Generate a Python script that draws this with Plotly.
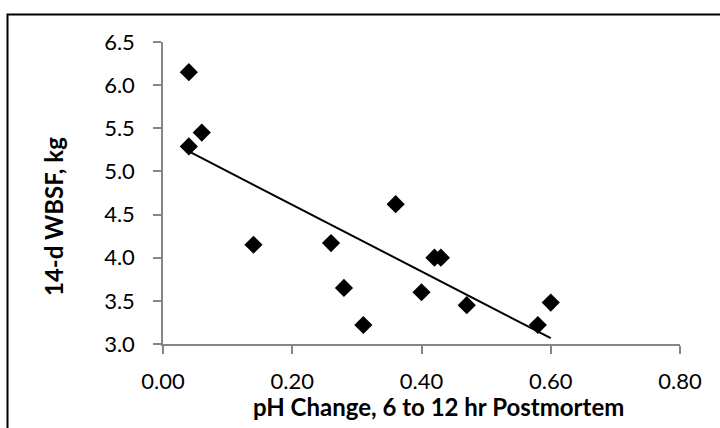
import numpy as np
import plotly.graph_objects as go

ph_change = [0.04, 0.04, 0.06, 0.14, 0.26, 0.28, 0.31, 0.36, 0.42, 0.43, 0.40, 0.47, 0.58, 0.60]
wbsf_kg = [6.15, 5.29, 5.45, 4.15, 4.17, 3.65, 3.22, 4.62, 4.00, 4.00, 3.60, 3.45, 3.22, 3.48]
x_ticks = [0.0, 0.2, 0.4, 0.6, 0.8]
x_tick_labels = ["0.00", "0.20", "0.40", "0.60", "0.80"]
y_ticks = [3.0, 3.5, 4.0, 4.5, 5.0, 5.5, 6.0, 6.5]
y_tick_labels = ["3.0", "3.5", "4.0", "4.5", "5.0", "5.5", "6.0", "6.5"]

slope, intercept = np.polyfit(ph_change, wbsf_kg, 1)
trend_x = [min(ph_change), max(ph_change)]
trend_y = [slope * v + intercept for v in trend_x]

FONT = "Lato"
W, H = 720, 428
L, R, T, B = 163, 40, 42, 84
pw, ph = W - L - R, H - T - B

def px(xpix):
    return (xpix - L) / pw

def py(ypix):
    return (H - B - ypix) / ph

fig = go.Figure()
fig.add_trace(go.Scatter(x=trend_x, y=trend_y, mode="lines",
                         line=dict(color="black", width=2), hoverinfo="skip"))
fig.add_trace(go.Scatter(x=ph_change, y=wbsf_kg, mode="markers",
                         marker=dict(symbol="diamond", size=14, color="black",
                                     line=dict(width=0))))

axis_common = dict(showgrid=False, zeroline=False, showline=True,
                   linecolor="#868686", linewidth=1.5, ticks="outside",
                   ticklen=8, tickcolor="#868686", tickwidth=1.5,
                   tickfont=dict(family=FONT, size=22, color="black"))

fig.update_xaxes(range=[0, 0.8], tickvals=x_ticks, ticktext=x_tick_labels,
                 ticklabelstandoff=9, **axis_common)
fig.update_yaxes(range=[3.0, 6.5], tickvals=y_ticks, ticktext=y_tick_labels,
                 ticklabelstandoff=14, **axis_common)

fig.add_annotation(text="<b>pH Change, 6 to 12 hr Postmortem</b>", xref="paper", yref="paper",
                   x=px(438), y=py(406), xanchor="center", yanchor="middle",
                   showarrow=False, font=dict(family=FONT, size=24, color="black"))
fig.add_annotation(text="<b>14-d WBSF, kg</b>", xref="paper", yref="paper",
                   x=px(53), y=py(217), xanchor="center", yanchor="middle", textangle=-90,
                   showarrow=False, font=dict(family=FONT, size=24, color="black"))

fig.add_shape(type="rect", xref="paper", yref="paper",
              x0=px(7.5), y0=py(480), x1=px(800), y1=py(14.5),
              line=dict(color="black", width=2), layer="above")

fig.update_layout(width=W, height=H, margin=dict(l=L, r=R, t=T, b=B),
                  paper_bgcolor="white", plot_bgcolor="white", showlegend=False)

fig.write_html("out.html")
